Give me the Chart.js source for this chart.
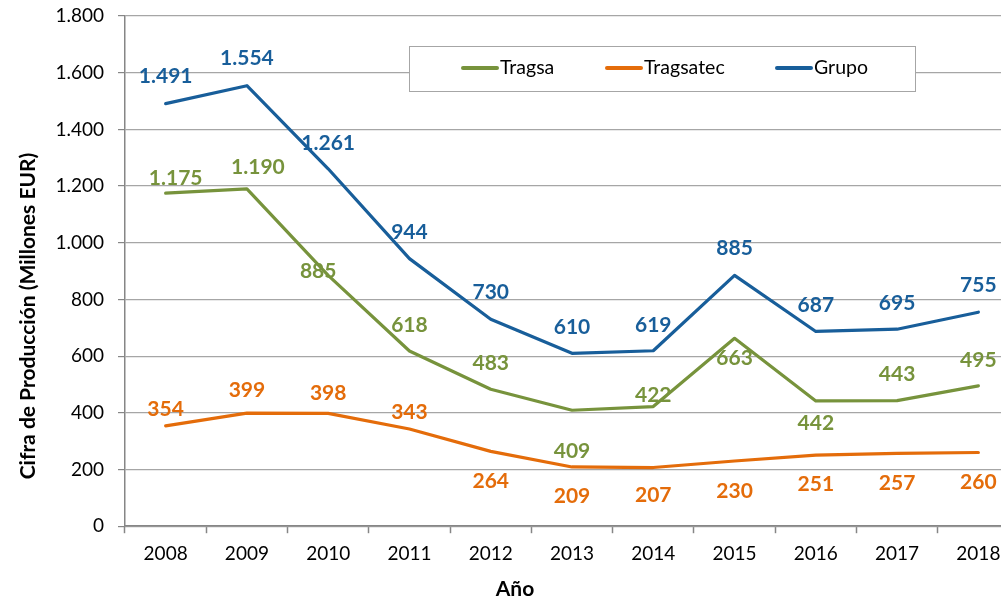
<!DOCTYPE html>
<html>
<head>
<meta charset="utf-8">
<script src="https://cdn.jsdelivr.net/npm/chart.js@4.4.1/dist/chart.umd.min.js"></script>
<style>
  body { margin: 0; background: #fff; }
  #wrap { width: 1001px; height: 597px; overflow: hidden; }
</style>
</head>
<body>
<div id="wrap"><canvas id="grafica" width="1030" height="597"></canvas></div>
<script>
// Datos
const anios = ['2008', '2009', '2010', '2011', '2012', '2013', '2014', '2015', '2016', '2017', '2018'];
const tragsa = [1175, 1190, 885, 618, 483, 409, 422, 663, 442, 443, 495];
const tragsatec = [354, 399, 398, 343, 264, 209, 207, 230, 251, 257, 260];
const grupo = [1491, 1554, 1261, 944, 730, 610, 619, 885, 687, 695, 755];
const ticksY = [0, 200, 400, 600, 800, 1000, 1200, 1400, 1600, 1800];

// desplazamiento de las etiquetas respecto al punto [dx, dy]
const posTragsa = [[10, -15], [11, -22], [-10, -4], [0, -26], [0, -26], [0, 41], [0, -11], [0, 20], [0, 22], [0, -26], [0, -26]];
const posTragsatec = [[0, -17], [0, -23], [0, -20], [0, -17], [0, 30], [0, 29], [0, 28], [0, 30], [0, 29], [0, 30], [0, 30]];
const posGrupo = [[0, -27], [0, -27], [0, -26], [0, -26], [0, -27], [0, -26], [0, -26], [0, -27], [0, -26], [0, -26], [0, -27]];

function fmt(v) {
  return String(v).replace(/\B(?=(\d{3})+(?!\d))/g, '.');
}

Chart.defaults.font.family = 'Lato';

const etiquetas = {
  id: 'etiquetas',
  afterDatasetsDraw(chart) {
    const ctx = chart.ctx;
    ctx.save();
    ctx.font = 'bold 21px Lato';
    ctx.textAlign = 'center';
    ctx.textBaseline = 'middle';
    chart.data.datasets.forEach((ds, i) => {
      const meta = chart.getDatasetMeta(i);
      ctx.fillStyle = ds.borderColor;
      meta.data.forEach((p, j) => {
        const off = ds.posEtiquetas[j];
        ctx.fillText(fmt(ds.data[j]), p.x + off[0], p.y + off[1]);
      });
    });
    ctx.restore();
  }
};

const leyenda = {
  id: 'leyenda',
  afterDraw(chart) {
    const ctx = chart.ctx;
    ctx.save();
    ctx.fillStyle = '#fff';
    ctx.fillRect(409, 46, 506, 45);
    ctx.strokeStyle = '#A6A6A6';
    ctx.lineWidth = 1;
    ctx.strokeRect(409.5, 46.5, 506, 45);
    const xs = [463, 607, 777];
    ctx.font = '19.5px Lato';
    ctx.textBaseline = 'middle';
    ctx.lineCap = 'round';
    chart.data.datasets.forEach((ds, i) => {
      ctx.strokeStyle = ds.borderColor;
      ctx.lineWidth = 4;
      ctx.beginPath();
      ctx.moveTo(xs[i], 68);
      ctx.lineTo(xs[i] + 34, 68);
      ctx.stroke();
      ctx.fillStyle = '#000';
      ctx.fillText(ds.label, xs[i] + 37, 68);
    });
    // titulos de los ejes
    ctx.font = 'bold 21px Lato';
    ctx.textAlign = 'center';
    ctx.fillText('Año', 515, 589);
    ctx.translate(28, 316);
    ctx.rotate(-Math.PI / 2);
    ctx.fillText('Cifra de Producción (Millones EUR)', 0, 0);
    ctx.restore();
  }
};

function serie(label, data, color, pos) {
  return {
    label: label,
    data: data,
    borderColor: color,
    backgroundColor: color,
    borderWidth: 3.2,
    pointRadius: 0,
    tension: 0,
    borderCapStyle: 'round',
    borderJoinStyle: 'round',
    posEtiquetas: pos
  };
}

new Chart(document.getElementById('grafica'), {
  type: 'line',
  data: {
    labels: anios,
    datasets: [
      serie('Tragsa', tragsa, '#77933C', posTragsa),
      serie('Tragsatec', tragsatec, '#E46C0A', posTragsatec),
      serie('Grupo', grupo, '#185E9A', posGrupo)
    ]
  },
  options: {
    responsive: false,
    animation: false,
    layout: { padding: { top: 16, bottom: 23, left: 0, right: 11 } },
    plugins: {
      legend: { display: false },
      tooltip: { enabled: false }
    },
    scales: {
      x: {
        offset: true,
        grid: { offset: true, drawOnChartArea: false, tickLength: 7, tickColor: '#868686', tickWidth: 1.5 },
        border: { color: '#868686', width: 1.5 },
        ticks: { color: '#000', padding: 9, font: { size: 19 }, maxRotation: 0 }
      },
      y: {
        min: 0,
        max: 1800,
        afterFit(scale) {
          scale.width = 125;
          scale.paddingTop = 0;
          scale.paddingBottom = 0;
        },
        afterBuildTicks(scale) { scale.ticks = ticksY.map(v => ({ value: v })); },
        grid: { color: '#A6A6A6', lineWidth: 1.2, tickLength: 7, tickColor: '#868686' },
        border: { color: '#868686', width: 1.5 },
        ticks: { color: '#000', padding: 14, font: { size: 19 }, callback: v => fmt(v) }
      }
    }
  },
  plugins: [etiquetas, leyenda]
});
</script>
</body>
</html>
